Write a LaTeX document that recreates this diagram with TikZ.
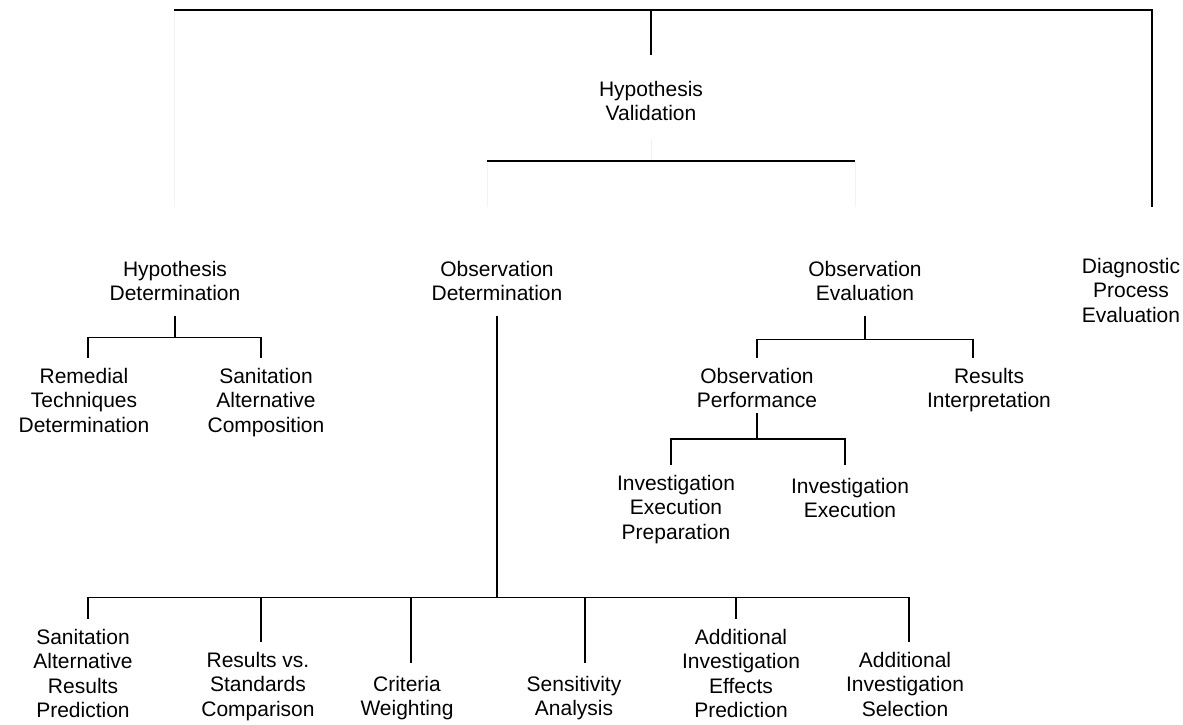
\documentclass[tikz,border=0pt]{standalone}
\usepackage{fontspec}
\setmainfont{Liberation Sans}
\begin{document}
\begin{tikzpicture}[x=1pt,y=-1pt,
  lbl/.style={align=center,font=\fontsize{21}{24.5}\selectfont,text depth=5pt,inner xsep=2pt,inner ysep=10pt,anchor=north},
  link/.style={line width=1.3pt,black},
  faint/.style={line width=0.8pt,black!5}]
\useasboundingbox (0,0) rectangle (1183,725);
% top level
\coordinate (tl) at (174,10);
\coordinate (tr) at (1152,10);
\coordinate (tm) at (651,10);
\coordinate (rb) at (1152,207);
\node[lbl] (HV) at (651,71) {Hypothesis\\Validation};
\coordinate (bl) at (487,161);
\coordinate (br) at (855,161);
\draw[faint] (tl) -- (174,207);
\draw[faint] ([yshift=-2pt]HV.south) -- (651,161);
\draw[faint] (bl) -- (487,207);
\draw[faint] (br) -- (855,207);
\draw[link] (tl) -- (tr) -- (rb);
\draw[link] (tm) -- ([yshift=16pt]HV.north);
\draw[link] (bl) -- (br);
% second level
\node[lbl] (HD) at (175,251) {Hypothesis\\Determination};
\node[lbl] (OD) at (497,251) {Observation\\Determination};
\node[lbl] (OE) at (865,251) {Observation\\Evaluation};
\node[lbl] (DPE) at (1131,248) {Diagnostic\\Process\\Evaluation};
% hypothesis determination
\node[lbl] (RTD) at (84,358) {Remedial\\Techniques\\Determination};
\node[lbl] (SAC) at (266,358) {Sanitation\\Alternative\\Composition};
\draw[link] (HD.south) -- ++(0,21.5) -| ([xshift=4pt]RTD.north);
\draw[link] (HD.south) -- ++(0,21.5) -| ([xshift=-5pt]SAC.north);
% observation evaluation
\node[lbl] (OP) at (757,358) {Observation\\Performance};
\node[lbl] (RI) at (989,358) {Results\\Interpretation};
\draw[link] (OE.south) -- ++(0,23.5) -| (OP.north);
\draw[link] (OE.south) -- ++(0,23.5) -| ([xshift=-16pt]RI.north);
\node[lbl] (IEP) at (676,465) {Investigation\\Execution\\Preparation};
\node[lbl] (IE) at (850,468) {Investigation\\Execution};
\draw[link] ([yshift=10pt]OP.south) -- ++(0,26) -| ([xshift=-5pt]IEP.north);
\draw[link] ([yshift=10pt]OP.south) -- ++(0,26) -| ([xshift=-5pt,yshift=3pt]IE.north);
% observation determination
\node[lbl] (SARP) at (83,619) {Sanitation\\Alternative\\Results\\Prediction};
\node[lbl] (RSC) at (258,642) {Results vs.\\Standards\\Comparison};
\node[lbl] (CW) at (407,666) {Criteria\\Weighting};
\node[lbl] (SA) at (574,666) {Sensitivity\\Analysis};
\node[lbl] (AIEP) at (741,619) {Additional\\Investigation\\Effects\\Prediction};
\node[lbl] (AIS) at (905,642) {Additional\\Investigation\\Selection};
\draw[link] (OD.south) -- ++(0,281.5) -| ([xshift=5pt]SARP.north);
\draw[link] (OD.south) -- ++(0,281.5) -| ([xshift=3pt]RSC.north);
\draw[link] (OD.south) -- ++(0,281.5) -| ([xshift=4pt,yshift=3pt]CW.north);
\draw[link] (OD.south) -- ++(0,281.5) -| ([xshift=11pt,yshift=3pt]SA.north);
\draw[link] (OD.south) -- ++(0,281.5) -| ([xshift=-5pt]AIEP.north);
\draw[link] (OD.south) -- ++(0,281.5) -| ([xshift=4pt]AIS.north);
\end{tikzpicture}
\end{document}
